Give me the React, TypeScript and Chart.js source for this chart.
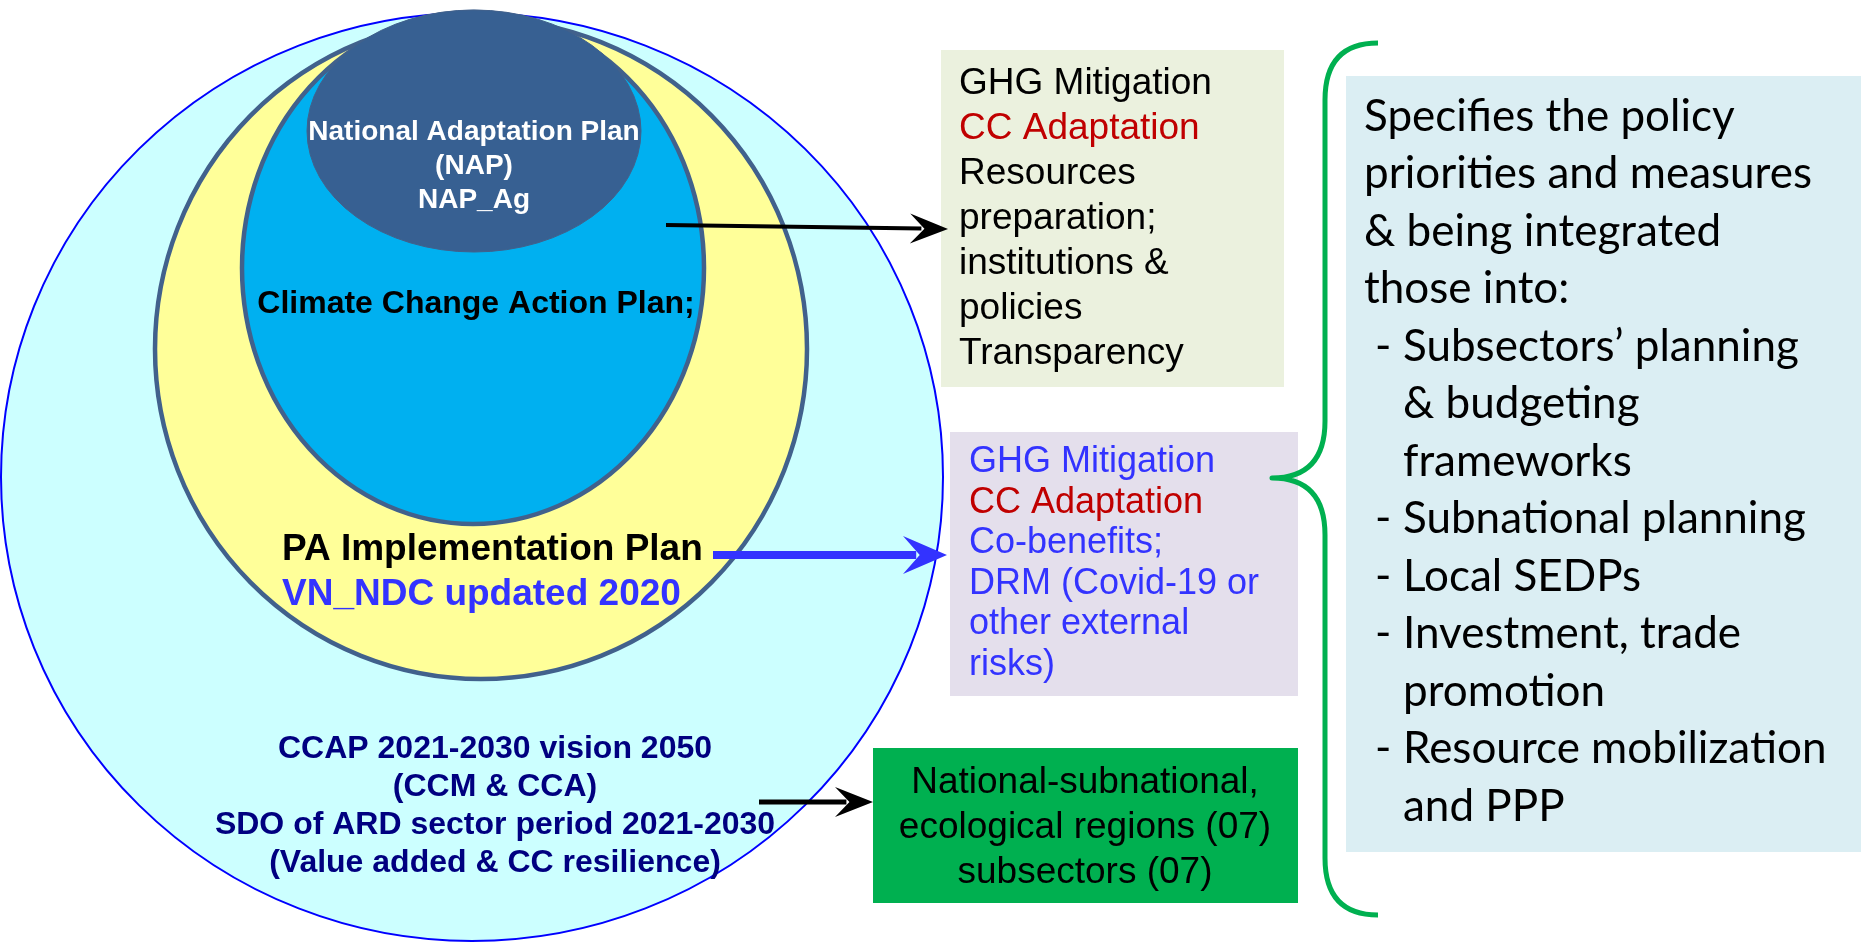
import React, { useEffect, useRef } from "react";
import { Chart, registerables } from "chart.js";

Chart.register(...registerables);

const CANVAS_W = 1861;
const CANVAS_H = 943;

// ---- Nested ellipses (data units = reference pixels) ----
const ellipseNames = ["CCAP / SDO", "PA Implementation Plan", "Climate Change Action Plan", "National Adaptation Plan"];
const ellipseCx = [472, 481, 473, 474];
const ellipseCy = [477, 349, 268, 131];
const ellipseRx = [471, 326, 231, 167];
const ellipseRy = [464, 330, 256, 121];
const ellipseFill = ["#ccffff", "#ffff99", "#00b0f0", "#376092"];
const ellipseStroke = ["#0000ff", "#41618c", "#41618c", "#41618c"];
const ellipseLineW = [2, 4.5, 4.5, 1];

// ---- Boxes ----
const boxX0 = [941, 950, 873, 1346];
const boxX1 = [1284, 1298, 1298, 1861];
const boxY0 = [50, 432, 748, 76];
const boxY1 = [387, 696, 903, 852];
const boxFill = ["#ebf1de", "#e4dfec", "#00b050", "#dbeef3"];

// ---- Arrows ----
const arrowX0 = [666, 713, 759];
const arrowY0 = [225, 555, 802];
const arrowX1 = [948, 947, 873];
const arrowY1 = [229, 555, 802];
const arrowColor = ["#000000", "#3333ff", "#000000"];
const arrowWidth = [4, 8, 5];
const arrowHeadLen = [38, 44, 38];
const arrowHeadHalf = [15, 19, 15];

// ---- Brace ----
const braceX = [1378, 1325, 1272];
const braceY = [43, 478, 915];

// ---- Texts ----
const napLines = ["National Adaptation Plan", "(NAP)", "NAP_Ag"];
const napY = [130, 164, 198];
const ccapActionLine = "Climate Change Action Plan;";
const paLines = ["PA Implementation Plan", "VN_NDC updated 2020"];
const paColors = ["#000000", "#3333ff"];
const paY = [547, 592];
const ccapLines = ["CCAP 2021-2030 vision 2050", "(CCM & CCA)", "SDO of ARD sector period 2021-2030", "(Value added & CC resilience)"];
const ccapY = [746, 784, 822, 860];

const box1Lines = ["GHG Mitigation", "CC Adaptation", "Resources", "preparation;", "institutions &", "policies", "Transparency"];
const box1Colors = ["#000000", "#c00000", "#000000", "#000000", "#000000", "#000000", "#000000"];
const box2Lines = ["GHG Mitigation", "CC Adaptation", "Co-benefits;", "DRM (Covid-19 or", "other external", "risks)"];
const box2Colors = ["#3333ff", "#c00000", "#3333ff", "#3333ff", "#3333ff", "#3333ff"];
const box3Lines = ["National-subnational,", "ecological regions (07)", "subsectors (07)"];
const rightLines = [
  "Specifies the policy",
  "priorities and measures",
  "& being integrated",
  "those into:",
  "Subsectors\u2019 planning",
  "& budgeting",
  "frameworks",
  "Subnational planning",
  "Local SEDPs",
  "Investment, trade",
  "promotion",
  "Resource mobilization",
  "and PPP",
];
const rightIndent = [0, 0, 0, 0, 1, 1, 1, 1, 1, 1, 1, 1, 1];
const rightDash = [0, 0, 0, 0, 1, 0, 0, 1, 1, 1, 0, 1, 0];

const ARIAL = '"Liberation Sans", Arial, sans-serif';
const CALIBRI = 'Lato, "Open Sans", sans-serif';

const diagramPlugin = {
  id: "diagram",
  beforeDatasetsDraw(chart: any) {
    const ctx = chart.ctx as CanvasRenderingContext2D;
    const xs = chart.scales.x;
    const ys = chart.scales.y;
    const px = (v: number) => xs.getPixelForValue(v);
    const py = (v: number) => ys.getPixelForValue(v);
    ctx.save();
    // ellipses
    for (let i = 0; i < ellipseCx.length; i++) {
      const cx = px(ellipseCx[i]);
      const cy = py(ellipseCy[i]);
      const rx = Math.abs(px(ellipseCx[i] + ellipseRx[i]) - cx);
      const ry = Math.abs(py(ellipseCy[i] + ellipseRy[i]) - cy);
      ctx.beginPath();
      ctx.ellipse(cx, cy, rx, ry, 0, 0, Math.PI * 2);
      ctx.fillStyle = ellipseFill[i];
      ctx.fill();
      ctx.lineWidth = ellipseLineW[i];
      ctx.strokeStyle = ellipseStroke[i];
      ctx.stroke();
    }
    // boxes
    for (let i = 0; i < boxX0.length; i++) {
      const x0 = px(boxX0[i]);
      const x1 = px(boxX1[i]);
      const y0 = py(boxY0[i]);
      const y1 = py(boxY1[i]);
      ctx.fillStyle = boxFill[i];
      ctx.fillRect(Math.min(x0, x1), Math.min(y0, y1), Math.abs(x1 - x0), Math.abs(y1 - y0));
    }
    // brace
    const bx0 = px(braceX[0]);
    const bx1 = px(braceX[1]);
    const bx2 = px(braceX[2]);
    const by0 = py(braceY[0]);
    const by1 = py(braceY[1]);
    const by2 = py(braceY[2]);
    const r = 57;
    ctx.beginPath();
    ctx.moveTo(bx0, by0);
    ctx.quadraticCurveTo(bx1, by0, bx1, by0 + r);
    ctx.lineTo(bx1, by1 - r);
    ctx.quadraticCurveTo(bx1, by1, bx2, by1);
    ctx.quadraticCurveTo(bx1, by1, bx1, by1 + r);
    ctx.lineTo(bx1, by2 - r);
    ctx.quadraticCurveTo(bx1, by2, bx0, by2);
    ctx.lineWidth = 5;
    ctx.strokeStyle = "#00b050";
    ctx.lineJoin = "round";
    ctx.stroke();
    ctx.restore();
  },
  afterDatasetsDraw(chart: any) {
    const ctx = chart.ctx as CanvasRenderingContext2D;
    const xs = chart.scales.x;
    const ys = chart.scales.y;
    const px = (v: number) => xs.getPixelForValue(v);
    const py = (v: number) => ys.getPixelForValue(v);
    ctx.save();
    // arrow heads
    for (let i = 0; i < arrowX0.length; i++) {
      const x0 = px(arrowX0[i]);
      const y0 = py(arrowY0[i]);
      const x1 = px(arrowX1[i]);
      const y1 = py(arrowY1[i]);
      const ang = Math.atan2(y1 - y0, x1 - x0);
      const L = arrowHeadLen[i];
      const Hh = arrowHeadHalf[i];
      const c = Math.cos(ang);
      const s = Math.sin(ang);
      const pt = (a: number, b: number) => [x1 + a * c - b * s, y1 + a * s + b * c];
      const p1 = pt(-L, -Hh);
      const p2 = pt(-L * 0.62, 0);
      const p3 = pt(-L, Hh);
      ctx.beginPath();
      ctx.moveTo(x1, y1);
      ctx.lineTo(p1[0], p1[1]);
      ctx.lineTo(p2[0], p2[1]);
      ctx.lineTo(p3[0], p3[1]);
      ctx.closePath();
      ctx.fillStyle = arrowColor[i];
      ctx.fill();
    }

    const text = (t: string, x: number, yCenter: number, size: number, font: string, weight: string, color: string, align: CanvasTextAlign) => {
      ctx.font = `${weight} ${size}px ${font}`;
      ctx.fillStyle = color;
      ctx.textAlign = align;
      ctx.textBaseline = "alphabetic";
      ctx.fillText(t, px(x), py(yCenter) + size * 0.36);
    };

    napLines.forEach((t, i) => text(t, 474, napY[i], 28, ARIAL, "bold", "#ffffff", "center"));
    text(ccapActionLine, 476, 301, 32, ARIAL, "bold", "#000000", "center");
    paLines.forEach((t, i) => text(t, 282, paY[i], 37, ARIAL, "bold", paColors[i], "left"));
    ccapLines.forEach((t, i) => text(t, 495, ccapY[i], 32, ARIAL, "bold", "#000080", "center"));

    box1Lines.forEach((t, i) => text(t, 959, 80.5 + i * 45, 37, ARIAL, "normal", box1Colors[i], "left"));
    box2Lines.forEach((t, i) => text(t, 969, 459.5 + i * 40.5, 36, ARIAL, "normal", box2Colors[i], "left"));
    box3Lines.forEach((t, i) => text(t, 1085, 779.5 + i * 45.3, 37, ARIAL, "normal", "#000000", "center"));

    rightLines.forEach((t, i) => {
      const y = 115 + i * 57.5;
      const x = rightIndent[i] ? 1403 : 1364;
      if (rightDash[i]) text("-", 1375, y, 44, CALIBRI, "normal", "#000000", "left");
      text(t, x, y, 44, CALIBRI, "normal", "#000000", "left");
    });
    ctx.restore();
  },
};

export default function App() {
  const canvasRef = useRef<HTMLCanvasElement | null>(null);

  useEffect(() => {
    document.body.style.margin = "0";
    document.body.style.overflow = "hidden";
    const canvas = canvasRef.current;
    if (!canvas) return;
    const datasets = arrowX0.map((_, i) => ({
      type: "line" as const,
      label: `arrow ${i + 1}`,
      data: [
        { x: arrowX0[i], y: arrowY0[i] },
        { x: arrowX1[i] - arrowHeadLen[i] * 0.7, y: arrowY0[i] + (arrowY1[i] - arrowY0[i]) * 0.9 },
      ],
      borderColor: arrowColor[i],
      borderWidth: arrowWidth[i],
      pointRadius: 0,
      showLine: true,
      fill: false,
      tension: 0,
    }));
    const chart = new Chart(canvas, {
      type: "scatter",
      data: { datasets },
      options: {
        animation: false,
        responsive: false,
        maintainAspectRatio: false,
        devicePixelRatio: 1,
        layout: { padding: 0 },
        plugins: { legend: { display: false }, tooltip: { enabled: false }, title: { display: false } },
        scales: {
          x: { type: "linear", min: 0, max: CANVAS_W, display: false },
          y: { type: "linear", min: 0, max: CANVAS_H, reverse: true, display: false },
        },
        events: [],
      },
      plugins: [diagramPlugin],
    });
    return () => chart.destroy();
  }, []);

  return (
    <div style={{ width: CANVAS_W, height: CANVAS_H, background: "#ffffff" }}>
      <canvas ref={canvasRef} width={CANVAS_W} height={CANVAS_H} style={{ display: "block" }} />
    </div>
  );
}
